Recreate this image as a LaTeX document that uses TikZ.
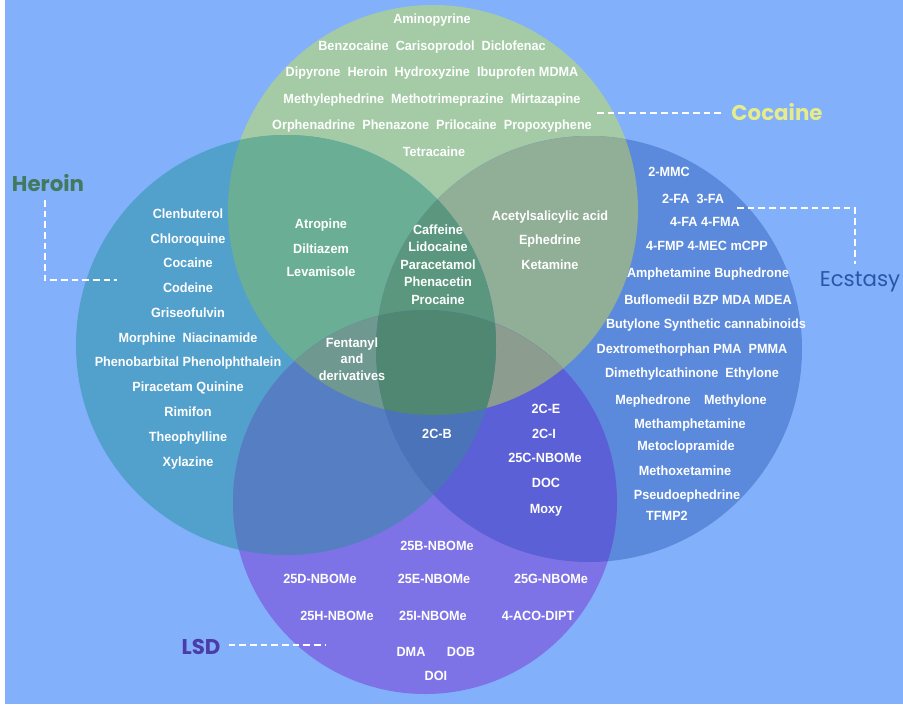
\documentclass[tikz,border=0pt]{standalone}
\usepackage{fontspec}
\newfontfamily\drugfont{Liberation Sans}[FakeStretch=0.95]
\newfontfamily\ttlfont{Poppins}
\definecolor{bgc}{HTML}{82B0FA}
\definecolor{cC}{HTML}{A4CBA6}
\definecolor{cH}{HTML}{52A0CC}
\definecolor{cE}{HTML}{5B8ADC}
\definecolor{cL}{HTML}{7D73E6}
\definecolor{cCH}{HTML}{6AAF95}
\definecolor{cCE}{HTML}{91AE97}
\definecolor{cCL}{HTML}{789690}
\definecolor{cHE}{HTML}{4E86C8}
\definecolor{cHL}{HTML}{567EC3}
\definecolor{cEL}{HTML}{5B60D6}
\definecolor{cCHE}{HTML}{5A977E}
\definecolor{cCHL}{HTML}{6E9890}
\definecolor{cCEL}{HTML}{8C9C8E}
\definecolor{cHEL}{HTML}{4A73B9}
\definecolor{cCHEL}{HTML}{4F8773}
\definecolor{tcoc}{HTML}{E6EB8C}
\definecolor{ther}{HTML}{417A5F}
\definecolor{tecs}{HTML}{2A56AA}
\definecolor{tlsd}{HTML}{4B3CAA}
\def\pC{(433,210) circle[radius=205]}
\def\pH{(286,345) circle[radius=210]}
\def\pE{(589,349) circle[radius=213]}
\def\pL{(425,502) circle[radius=192]}
\tikzset{
  drug/.style={text=white, font=\drugfont\bfseries\fontsize{10}{12}\selectfont, inner sep=0pt, text height=7pt, text depth=2pt, align=center},
  ttl/.style={font=\ttlfont\bfseries\fontsize{16}{18}\selectfont, inner sep=6pt},
  ttlreg/.style={font=\ttlfont\fontsize{16}{18}\selectfont, inner sep=6pt},
  leader/.style={draw=white, line width=2.2pt, dash pattern=on 5pt off 3pt}
}
\begin{document}
\begin{tikzpicture}[x=0.75pt, y=-0.75pt]
\useasboundingbox (0,0) rectangle (903,704);
\fill[white] (0,0) rectangle (903,704);
\fill[bgc] (5,0) rectangle (903,704);
% single regions
\fill[cC] \pC;
\fill[cH] \pH;
\fill[cE] \pE;
\fill[cL] \pL;
% pairs
\begin{scope}\clip \pC; \fill[cCH] \pH; \end{scope}
\begin{scope}\clip \pC; \fill[cCE] \pE; \end{scope}
\begin{scope}\clip \pC; \fill[cCL] \pL; \end{scope}
\begin{scope}\clip \pH; \fill[cHE] \pE; \end{scope}
\begin{scope}\clip \pH; \fill[cHL] \pL; \end{scope}
\begin{scope}\clip \pE; \fill[cEL] \pL; \end{scope}
% triples
\begin{scope}\clip \pC; \clip \pH; \fill[cCHE] \pE; \end{scope}
\begin{scope}\clip \pC; \clip \pH; \fill[cCHL] \pL; \end{scope}
\begin{scope}\clip \pC; \clip \pE; \fill[cCEL] \pL; \end{scope}
\begin{scope}\clip \pH; \clip \pE; \fill[cHEL] \pL; \end{scope}
% quadruple
\begin{scope}\clip \pC; \clip \pH; \clip \pE; \fill[cCHEL] \pL; \end{scope}

% Cocaine only
\node[drug] (c1) at (432,20) {Aminopyrine};
\node[drug] (c2) at (432,47) {Benzocaine\ \ Carisoprodol\ \ Diclofenac};
\node[drug] (c3) at (432,73) {Dipyrone\ \ Heroin\ \ Hydroxyzine\ \ Ibuprofen\ MDMA};
\node[drug] (c4) at (432,100) {Methylephedrine\ \ Methotrimeprazine\ \ Mirtazapine};
\node[drug] (c5) at (432,126) {Orphenadrine\ \ Phenazone\ \ Prilocaine\ \ Propoxyphene};
\node[drug] (c6) at (434,153) {Tetracaine};

% Heroin only
\node[drug] (h1) at (188,215) {Clenbuterol};
\node[drug] (h2) at (188,240) {Chloroquine};
\node[drug] (h3) at (188,264) {Cocaine};
\node[drug] (h4) at (188,289) {Codeine};
\node[drug] (h5) at (188,314) {Griseofulvin};
\node[drug] (h6) at (188,339) {Morphine\ \ Niacinamide};
\node[drug] (h7) at (188,363) {Phenobarbital Phenolphthalein};
\node[drug] (h8) at (188,388) {Piracetam Quinine};
\node[drug] (h9) at (188,413) {Rimifon};
\node[drug] (h10) at (188,438) {Theophylline};
\node[drug] (h11) at (188,463) {Xylazine};

% Cocaine & Heroin
\node[drug] (ch1) at (321,225) {Atropine};
\node[drug] (ch2) at (321,250) {Diltiazem};
\node[drug] (ch3) at (321,273) {Levamisole};

% Cocaine & Heroin & Ecstasy
\node[drug] (che1) at (438,231) {Caffeine};
\node[drug] (che2) at (438,248) {Lidocaine};
\node[drug] (che3) at (438,266) {Paracetamol};
\node[drug] (che4) at (438,283) {Phenacetin};
\node[drug] (che5) at (438,301) {Procaine};

% Cocaine & Ecstasy
\node[drug] (ce1) at (550,217) {Acetylsalicylic acid};
\node[drug] (ce2) at (550,241) {Ephedrine};
\node[drug] (ce3) at (550,266) {Ketamine};

% Cocaine & Heroin & LSD
\node[drug] (chl1) at (352,344) {Fentanyl};
\node[drug] (chl2) at (352,360) {and};
\node[drug] (chl3) at (352,377) {derivatives};

% Ecstasy only
\node[drug] (e1) at (669,173) {2-MMC};
\node[drug] (e2) at (693,200) {2-FA\ \ 3-FA};
\node[drug] (e3) at (705,223) {4-FA 4-FMA};
\node[drug] (e4) at (707,247) {4-FMP 4-MEC\ mCPP};
\node[drug] (e5) at (708,274) {Amphetamine Buphedrone};
\node[drug] (e6) at (708,301) {Buflomedil BZP\ MDA\ MDEA};
\node[drug] (e7) at (706,325) {Butylone Synthetic cannabinoids};
\node[drug] (e8) at (692,350) {Dextromethorphan PMA\ \ PMMA};
\node[drug] (e9) at (692,374) {Dimethylcathinone\ \ Ethylone};
\node[drug] (e10) at (691,401) {Mephedrone\quad Methylone};
\node[drug] (e11) at (690,425) {Methamphetamine};
\node[drug] (e12) at (686,447) {Metoclopramide};
\node[drug] (e13) at (685,472) {Methoxetamine};
\node[drug] (e14) at (687,496) {Pseudoephedrine};
\node[drug] (e15) at (667,517) {TFMP2};

% Heroin & Ecstasy & LSD
\node[drug] (hel1) at (437,435) {2C-B};

% Ecstasy & LSD
\node[drug] (el1) at (546,410) {2C-E};
\node[drug] (el2) at (544,435) {2C-I};
\node[drug] (el3) at (545,459) {25C-NBOMe};
\node[drug] (el4) at (546,484) {DOC};
\node[drug] (el5) at (546,510) {Moxy};

% LSD only
\node[drug] (l1) at (437,547) {25B-NBOMe};
\node[drug] (l2) at (320,580) {25D-NBOMe};
\node[drug] (l3) at (434,580) {25E-NBOMe};
\node[drug] (l4) at (551,580) {25G-NBOMe};
\node[drug] (l5) at (337,617) {25H-NBOMe};
\node[drug] (l6) at (433,617) {25I-NBOMe};
\node[drug] (l7) at (538,617) {4-ACO-DIPT};
\node[drug] (l8) at (411,653) {DMA};
\node[drug] (l9) at (461,653) {DOB};
\node[drug] (l10) at (436,677) {DOI};

% Set labels
\node[ttl, text=tcoc] (lcoc) at (777,112) {Cocaine};
\node[ttl, text=ther] (lher) at (48,183) {Heroin};
\node[ttlreg, text=tecs] (lecs) at (860,282) {Ecstasy};
\node[ttl, text=tlsd] (llsd) at (201,647) {LSD};

% leaders
\coordinate (cocA) at (597,113);
\draw[leader] (cocA) -- (cocA -| lcoc.west);
\coordinate (herC) at (45,280);
\coordinate (herE) at (117,280);
\draw[leader] (lher.south -| herC) -- (herC) -- (herE);
\coordinate (ecsA) at (737,208);
\coordinate (ecsC) at (855,208);
\draw[leader] (ecsA) -- (ecsC) -- (ecsC |- lecs.north);
\coordinate (lsdE) at (325,645);
\draw[leader] (llsd.east |- lsdE) -- (lsdE);
\end{tikzpicture}
\end{document}
